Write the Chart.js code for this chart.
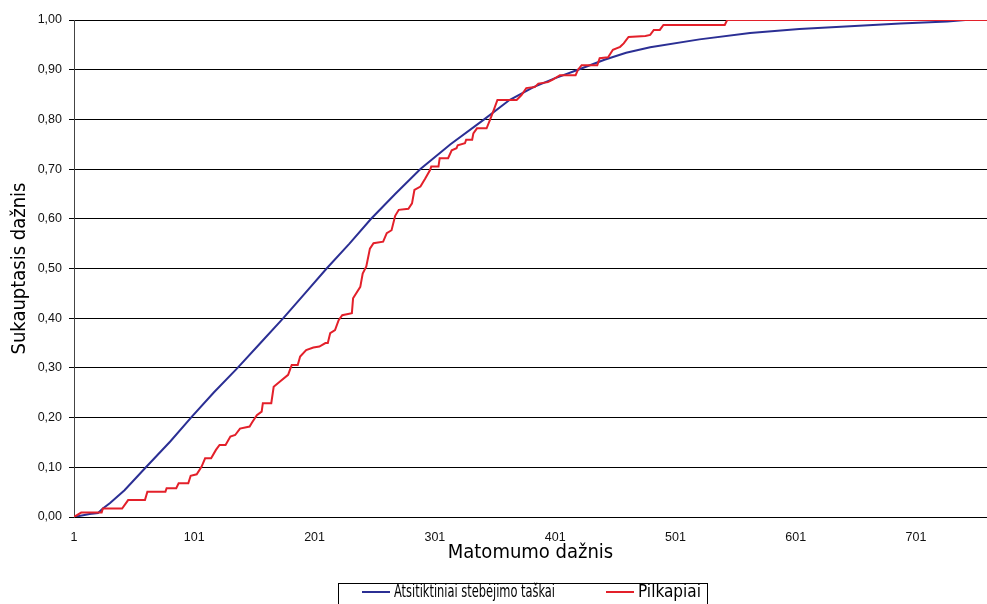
<!DOCTYPE html>
<html>
<head>
<meta charset="utf-8">
<script src="https://cdn.jsdelivr.net/npm/chart.js@4.4.0/dist/chart.umd.min.js"></script>
<style>
html,body{margin:0;padding:0;background:#fff;}
#wrap{width:987px;height:604px;position:relative;overflow:hidden;}
</style>
</head>
<body>
<div id="wrap"><canvas id="c" width="987" height="604"></canvas></div>
<script>
const seriesNames = ['Atsitiktiniai stebėjimo taškai', 'Pilkapiai'];
const seriesColors = ['#2b2f94', '#e3202a'];
const xTitle = 'Matomumo dažnis';
const yTitle = 'Sukauptasis dažnis';

const blueX = [1, 14, 21, 25, 31, 43, 60, 81, 99, 117, 137, 156, 175, 193, 211, 230, 248, 268, 289, 314, 342, 363, 383, 400, 420, 442, 460, 480, 521, 563, 604, 650, 688, 727, 742];
const blueY = [0, 0.006, 0.008, 0.017, 0.028, 0.054, 0.098, 0.152, 0.202, 0.25, 0.30, 0.35, 0.40, 0.45, 0.50, 0.55, 0.60, 0.65, 0.70, 0.75, 0.80, 0.839, 0.865, 0.882, 0.90, 0.92, 0.934, 0.945, 0.961, 0.974, 0.982, 0.988, 0.993, 0.997, 1.0];

const redX = [1, 7, 24, 25, 41, 46, 60, 62, 77, 78, 86, 88, 96, 98, 103, 107, 110, 115, 119, 122, 127, 131, 135, 139, 147, 149, 153, 157, 158, 165, 167, 172, 179, 182, 187, 189, 194, 200, 205, 210, 212, 214, 218, 221, 224, 232, 233, 239, 241, 244, 247, 250, 258, 261, 265, 268, 271, 279, 282, 284, 289, 293, 297, 298, 304, 305, 312, 315, 319, 320, 326, 327, 332, 333, 336, 344, 347, 350, 353, 369, 373, 377, 384, 387, 395, 399, 405, 418, 420, 423, 436, 438, 445, 449, 455, 458, 462, 476, 480, 483, 488, 491, 542, 544, 760];
const redY = [0, 0.009, 0.009, 0.017, 0.017, 0.034, 0.034, 0.051, 0.051, 0.058, 0.058, 0.068, 0.068, 0.083, 0.086, 0.101, 0.118, 0.118, 0.135, 0.145, 0.145, 0.162, 0.165, 0.178, 0.182, 0.19, 0.205, 0.212, 0.229, 0.229, 0.262, 0.272, 0.286, 0.306, 0.306, 0.323, 0.336, 0.341, 0.343, 0.35, 0.35, 0.37, 0.376, 0.396, 0.406, 0.41, 0.44, 0.463, 0.49, 0.504, 0.54, 0.551, 0.554, 0.571, 0.577, 0.606, 0.618, 0.62, 0.631, 0.658, 0.665, 0.681, 0.698, 0.705, 0.705, 0.722, 0.722, 0.738, 0.742, 0.748, 0.752, 0.759, 0.759, 0.772, 0.782, 0.782, 0.80, 0.819, 0.839, 0.839, 0.849, 0.863, 0.865, 0.872, 0.875, 0.88, 0.889, 0.889, 0.90, 0.909, 0.909, 0.923, 0.925, 0.94, 0.946, 0.953, 0.966, 0.968, 0.97, 0.98, 0.98, 0.99, 0.99, 1.0, 1.0];

const xTickValues = [1, 101, 201, 301, 401, 501, 601, 701];
const yTickValues = [0, 0.1, 0.2, 0.3, 0.4, 0.5, 0.6, 0.7, 0.8, 0.9, 1.0];
const xMin = 1, xMax = 760;

const TICK_FONT = '"Liberation Sans", Arial, sans-serif';
const TITLE_FONT = '"Liberation Sans Narrow", "DejaVu Sans Condensed", "Roboto Condensed", "Open Sans", sans-serif';

const toPts = (xs, ys) => xs.map((x, i) => ({x: x, y: ys[i]}));

const legendBox = {
  id: 'legendBox',
  afterDraw(chart) {
    const ctx = chart.ctx;
    ctx.save();
    ctx.strokeStyle = '#000';
    ctx.lineWidth = 1;
    ctx.strokeRect(338.5, 583.5, 369, 30);
    ctx.font = '18px ' + TITLE_FONT;
    ctx.textBaseline = 'middle';
    ctx.fillStyle = '#000';
    const items = [{x: 362, w: 161}, {x: 606, w: 63}];
    chart.data.datasets.forEach((ds, i) => {
      const it = items[i];
      ctx.strokeStyle = ds.borderColor;
      ctx.lineWidth = 2;
      ctx.beginPath();
      ctx.moveTo(it.x, 592);
      ctx.lineTo(it.x + 28, 592);
      ctx.stroke();
      const natural = ctx.measureText(ds.label).width;
      const sx = it.w / natural;
      ctx.save();
      ctx.translate(it.x + 32, 592);
      ctx.scale(sx, 1);
      ctx.fillText(ds.label, 0, 0);
      ctx.restore();
    });
    ctx.restore();
  }
};

new Chart(document.getElementById('c'), {
  type: 'line',
  data: {
    datasets: [
      {label: seriesNames[0], data: toPts(blueX, blueY), borderColor: seriesColors[0], backgroundColor: seriesColors[0], borderWidth: 2, pointRadius: 0, tension: 0, fill: false, order: 1},
      {label: seriesNames[1], data: toPts(redX, redY), borderColor: seriesColors[1], backgroundColor: seriesColors[1], borderWidth: 2, pointRadius: 0, tension: 0, fill: false, order: 0}
    ]
  },
  options: {
    responsive: false,
    animation: false,
    layout: {padding: {top: 20, right: 0, bottom: 34, left: 0}},
    plugins: {legend: {display: false}, tooltip: {enabled: false}},
    scales: {
      x: {
        type: 'linear',
        min: xMin,
        max: xMax,
        afterBuildTicks: (scale) => { scale.ticks = xTickValues.map(v => ({value: v})); },
        afterFit: (scale) => { scale.height = 53; },
        grid: {display: false, drawTicks: false},
        border: {display: true, color: '#000', width: 1},
        ticks: {
          color: '#111', padding: 13, maxRotation: 0, autoSkip: false,
          font: {family: TICK_FONT, size: 12.5},
          callback: (v) => String(v)
        },
        title: {display: true, text: xTitle, color: '#000', font: {family: TITLE_FONT, size: 20}, padding: {top: 0, bottom: 5}}
      },
      y: {
        min: 0,
        max: 1,
        afterBuildTicks: (scale) => { scale.ticks = yTickValues.map(v => ({value: v})); },
        afterFit: (scale) => { scale.width = 74; },
        grid: {display: true, color: '#000', lineWidth: 1, drawTicks: true, tickLength: 5},
        border: {display: true, color: '#444', width: 1},
        ticks: {
          color: '#111', padding: 7,
          font: {family: TICK_FONT, size: 12.5},
          callback: (v) => Number(v).toFixed(2).replace('.', ',')
        },
        title: {display: true, text: yTitle, color: '#000', font: {family: TITLE_FONT, size: 20}, padding: {top: 8, bottom: 4}}
      }
    }
  },
  plugins: [legendBox]
});
</script>
</body>
</html>
